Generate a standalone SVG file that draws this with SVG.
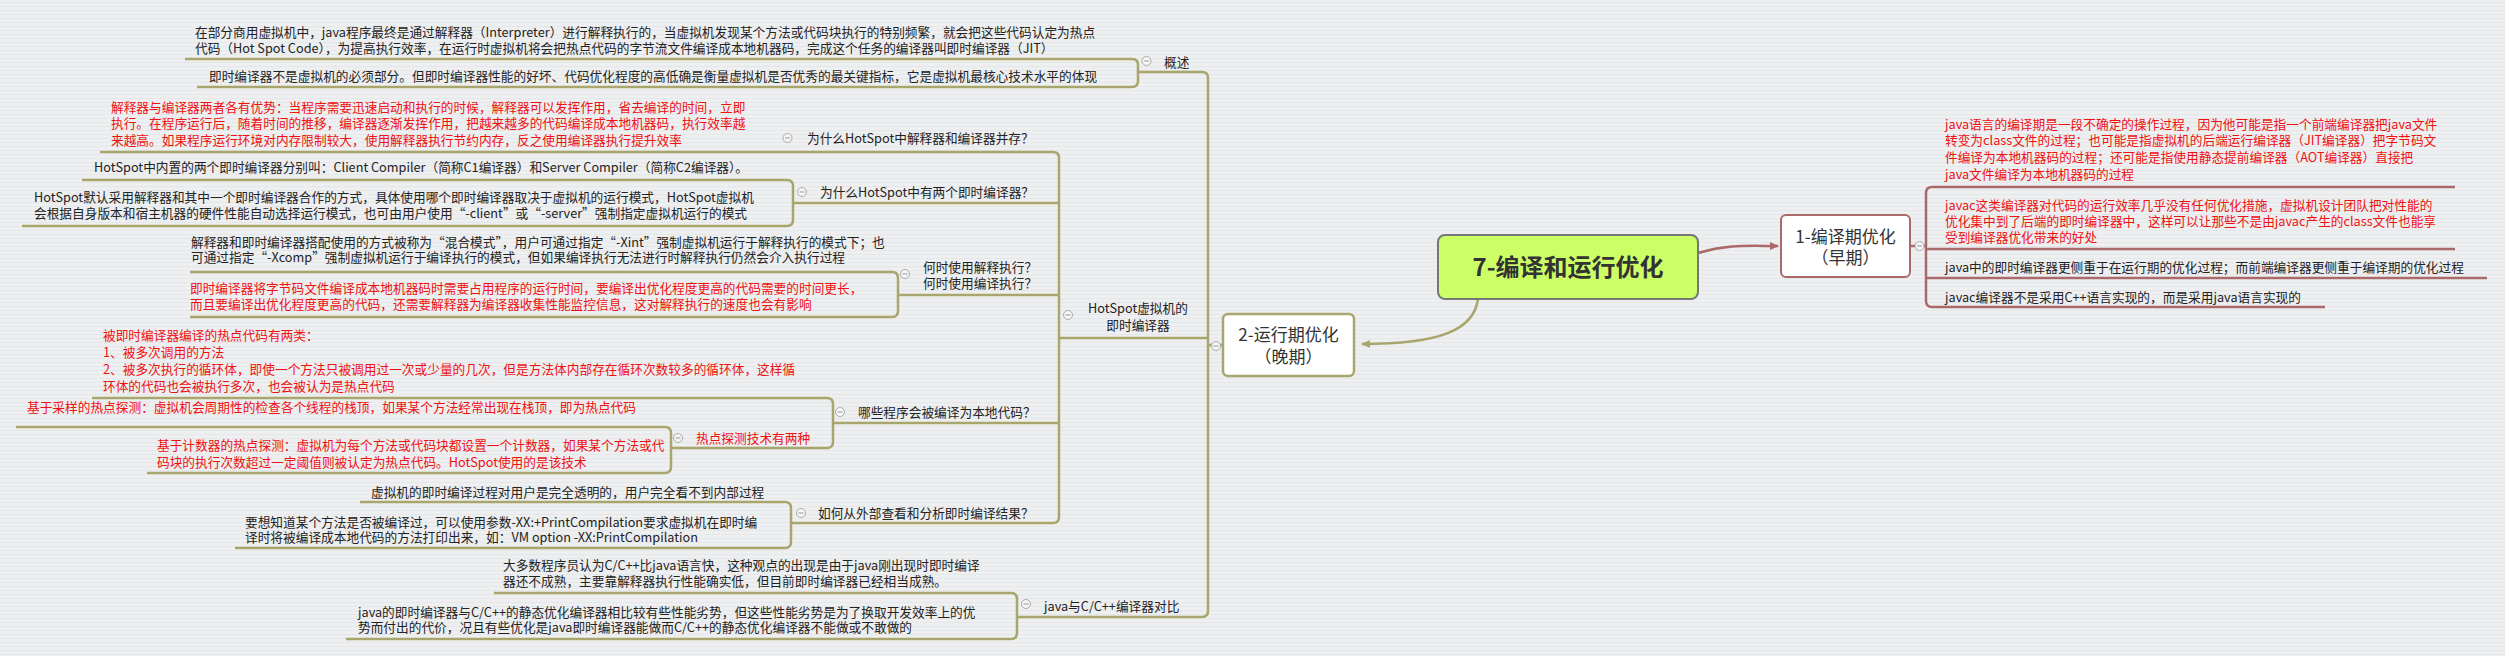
<svg xmlns="http://www.w3.org/2000/svg" width="2505" height="656" viewBox="0 0 2505 656">
<style>
.t{font-family:"Noto Sans CJK SC","Noto Sans",sans-serif;font-size:12.7px;fill:#222}
.r{fill:#f01010}
.n{font-size:17px;fill:#333;text-anchor:middle}
.ol{fill:none;stroke:#a9a66d;stroke-width:2.5}
.rl{fill:none;stroke:#ab6a6a;stroke-width:2.5}
.cc{fill:#f6f6f6;stroke:#aaa;stroke-width:1}
.cm{stroke:#999;stroke-width:1}
</style>
<defs>
<pattern id="bg" width="10" height="4" patternUnits="userSpaceOnUse">
<rect width="10" height="4" fill="#eeeff1"/>
<rect y="2" width="10" height="1" fill="#e6e7e9"/>
</pattern>
<marker id="ao" markerUnits="userSpaceOnUse" markerWidth="9" markerHeight="8" refX="8" refY="4" orient="auto"><path d="M0,0 L9,4 L0,8 z" fill="#a9a66d"/></marker>
<marker id="ar" markerUnits="userSpaceOnUse" markerWidth="9" markerHeight="8" refX="8" refY="4" orient="auto"><path d="M0,0 L9,4 L0,8 z" fill="#ab6a6a"/></marker>
</defs>
<rect width="2505" height="656" fill="url(#bg)"/>

<g id="connectors">
<path class="ol" d="M1478,299 C1474,330 1440,344 1362,344" marker-end="url(#ao)"/>
<path class="rl" d="M1698,253 C1728,244 1748,246 1778,246" marker-end="url(#ar)"/>
<path class="ol" d="M1138,72 H1202 Q1208,72 1208,78 V611 Q1208,617 1202,617 H1017"/>
<path class="ol" d="M1059,338 H1208 M1208,345 H1223"/>
<path class="ol" d="M185,59 H1132 Q1138,59 1138,65 V81 Q1138,87 1132,87 H197"/>
<path class="ol" d="M100,152 H1053 Q1059,152 1059,158 V517 Q1059,523 1053,523 H791"/>
<path class="ol" d="M793,203 H1059 M898,295 H1059 M833,423 H1059"/>
<path class="ol" d="M82,180 H787 Q793,180 793,186 V220 Q793,226 787,226 H22"/>
<path class="ol" d="M190,272 H892 Q898,272 898,278 V311 Q898,317 892,317 H190"/>
<path class="ol" d="M92,398 H827 Q833,398 833,404 V442 Q833,448 827,448 H671"/>
<path class="ol" d="M16,427 H665 Q671,427 671,433 V467 Q671,473 665,473 H147"/>
<path class="ol" d="M360,502 H785 Q791,502 791,508 V542 Q791,548 785,548 H235"/>
<path class="ol" d="M494,593 H1011 Q1017,593 1017,599 V633 Q1017,639 1011,639 H346"/>
<path class="rl" d="M2455,187 H1932 Q1926,187 1926,193 V301 Q1926,307 1932,307 H2325"/>
<path class="rl" d="M1926,249 H2455 M1926,278 H2487 M1910,246 H1926"/>
</g>

<g id="root">
<rect x="1438" y="235" width="260" height="64" rx="7" fill="#ccff66" stroke="#777" stroke-width="2"/>
<text class="t" x="1568" y="276" style="font-size:24px;font-weight:bold;fill:#333;text-anchor:middle">7-编译和运行优化</text>
</g>

<g id="n1">
<rect x="1781" y="215" width="129" height="62" rx="5" fill="#fff" stroke="#ab6a6a" stroke-width="2"/>
<text class="t n" x="1845.5" y="243">1-编译期优化</text>
<text class="t n" x="1845.5" y="264">（早期）</text>
<circle class="cc" cx="1919.5" cy="246" r="4.5"/><path class="cm" d="M1917,246 H1922"/>
</g>
<g id="n1a">
<text class="t r" x="1945" y="128.5">java语言的编译期是一段不确定的操作过程，因为他可能是指一个前端编译器把java文件</text>
<text class="t r" x="1945" y="145">转变为class文件的过程；也可能是指虚拟机的后端运行编译器（JIT编译器）把字节码文</text>
<text class="t r" x="1945" y="162">件编译为本地机器码的过程；还可能是指使用静态提前编译器（AOT编译器）直接把</text>
<text class="t r" x="1945" y="178.5">java文件编译为本地机器码的过程</text>
</g>
<g id="n1b">
<text class="t r" x="1945" y="209.5">javac这类编译器对代码的运行效率几乎没有任何优化措施，虚拟机设计团队把对性能的</text>
<text class="t r" x="1945" y="225.5">优化集中到了后端的即时编译器中，这样可以让那些不是由javac产生的class文件也能享</text>
<text class="t r" x="1945" y="241.5">受到编译器优化带来的好处</text>
</g>
<g id="n1c"><text class="t" x="1945" y="271.5">java中的即时编译器更侧重于在运行期的优化过程；而前端编译器更侧重于编译期的优化过程</text></g>
<g id="n1d"><text class="t" x="1945" y="301.5">javac编译器不是采用C++语言实现的，而是采用java语言实现的</text></g>

<g id="n2">
<rect x="1223" y="314" width="131" height="62" rx="5" fill="#fff" stroke="#a9a66d" stroke-width="2.5"/>
<text class="t n" x="1288.5" y="341">2-运行期优化</text>
<text class="t n" x="1288.5" y="363">（晚期）</text>
<circle class="cc" cx="1216" cy="346" r="4.5"/><path class="cm" d="M1213.5,346 H1218.5"/>
</g>

<g id="gaishu">
<text class="t" x="1164" y="66.5">概述</text>
<circle class="cc" cx="1146.5" cy="61" r="4.5"/><path class="cm" d="M1144,61 H1149"/>
</g>
<g id="gaishu-a">
<text class="t" x="195" y="36.5">在部分商用虚拟机中，java程序最终是通过解释器（Interpreter）进行解释执行的，当虚拟机发现某个方法或代码块执行的特别频繁，就会把这些代码认定为热点</text>
<text class="t" x="195" y="53">代码（Hot Spot Code），为提高执行效率，在运行时虚拟机将会把热点代码的字节流文件编译成本地机器码，完成这个任务的编译器叫即时编译器（JIT）</text>
</g>
<g id="gaishu-b">
<text class="t" x="209" y="81">即时编译器不是虚拟机的必须部分。但即时编译器性能的好坏、代码优化程度的高低确是衡量虚拟机是否优秀的最关键指标，它是虚拟机最核心技术水平的体现</text>
</g>

<g id="hotspot">
<text class="t" x="1138" y="312.5" text-anchor="middle">HotSpot虚拟机的</text>
<text class="t" x="1138" y="330" text-anchor="middle">即时编译器</text>
<circle class="cc" cx="1068" cy="315" r="4.5"/><path class="cm" d="M1065.5,315 H1070.5"/>
</g>

<g id="q1">
<text class="t" x="807" y="142.5">为什么HotSpot中解释器和编译器并存？</text>
<circle class="cc" cx="787.5" cy="138" r="4.5"/><path class="cm" d="M785,138 H790"/>
</g>
<g id="q1-a">
<text class="t r" x="111" y="111.5">解释器与编译器两者各有优势：当程序需要迅速启动和执行的时候，解释器可以发挥作用，省去编译的时间，立即</text>
<text class="t r" x="111" y="128">执行。在程序运行后，随着时间的推移，编译器逐渐发挥作用，把越来越多的代码编译成本地机器码，执行效率越</text>
<text class="t r" x="111" y="144.5">来越高。如果程序运行环境对内存限制较大，使用解释器执行节约内存，反之使用编译器执行提升效率</text>
</g>

<g id="q2">
<text class="t" x="820" y="196.5">为什么HotSpot中有两个即时编译器？</text>
<circle class="cc" cx="802" cy="192" r="4.5"/><path class="cm" d="M799.5,192 H804.5"/>
</g>
<g id="q2-a"><text class="t" x="94" y="171.5">HotSpot中内置的两个即时编译器分别叫：Client Compiler（简称C1编译器）和Server Compiler（简称C2编译器）。</text></g>
<g id="q2-b">
<text class="t" x="34" y="201.5">HotSpot默认采用解释器和其中一个即时编译器合作的方式，具体使用哪个即时编译器取决于虚拟机的运行模式，HotSpot虚拟机</text>
<text class="t" x="34" y="217.5">会根据自身版本和宿主机器的硬件性能自动选择运行模式，也可由用户使用“-client”或“-server”强制指定虚拟机运行的模式</text>
</g>

<g id="q3">
<text class="t" x="923" y="271.5">何时使用解释执行？</text>
<text class="t" x="923" y="287.5">何时使用编译执行？</text>
<circle class="cc" cx="905" cy="274" r="4.5"/><path class="cm" d="M902.5,274 H907.5"/>
</g>
<g id="q3-a">
<text class="t" x="191" y="246.5">解释器和即时编译器搭配使用的方式被称为“混合模式”，用户可通过指定“-Xint”强制虚拟机运行于解释执行的模式下；也</text>
<text class="t" x="191" y="262">可通过指定“-Xcomp”强制虚拟机运行于编译执行的模式，但如果编译执行无法进行时解释执行仍然会介入执行过程</text>
</g>
<g id="q3-b">
<text class="t r" x="190" y="292.5">即时编译器将字节码文件编译成本地机器码时需要占用程序的运行时间，要编译出优化程度更高的代码需要的时间更长，</text>
<text class="t r" x="190" y="309">而且要编译出优化程度更高的代码，还需要解释器为编译器收集性能监控信息，这对解释执行的速度也会有影响</text>
</g>

<g id="q4">
<text class="t" x="858" y="416.5">哪些程序会被编译为本地代码？</text>
<circle class="cc" cx="840" cy="412" r="4.5"/><path class="cm" d="M837.5,412 H842.5"/>
</g>
<g id="q4-a">
<text class="t r" x="103" y="339.5">被即时编译器编译的热点代码有两类：</text>
<text class="t r" x="103" y="356.5">1、被多次调用的方法</text>
<text class="t r" x="103" y="373.5">2、被多次执行的循环体，即使一个方法只被调用过一次或少量的几次，但是方法体内部存在循环次数较多的循环体，这样循</text>
<text class="t r" x="103" y="390.5">环体的代码也会被执行多次，也会被认为是热点代码</text>
</g>
<g id="q4-b">
<text class="t r" x="696" y="442.5">热点探测技术有两种</text>
<circle class="cc" cx="678" cy="438" r="4.5"/><path class="cm" d="M675.5,438 H680.5"/>
</g>
<g id="q4-b1"><text class="t r" x="27" y="411.5">基于采样的热点探测：虚拟机会周期性的检查各个线程的栈顶，如果某个方法经常出现在栈顶，即为热点代码</text></g>
<g id="q4-b2">
<text class="t r" x="157" y="449.5">基于计数器的热点探测：虚拟机为每个方法或代码块都设置一个计数器，如果某个方法或代</text>
<text class="t r" x="157" y="466.5">码块的执行次数超过一定阈值则被认定为热点代码。HotSpot使用的是该技术</text>
</g>

<g id="q5">
<text class="t" x="818" y="517.5">如何从外部查看和分析即时编译结果？</text>
<circle class="cc" cx="801" cy="513" r="4.5"/><path class="cm" d="M798.5,513 H803.5"/>
</g>
<g id="q5-a"><text class="t" x="371" y="496.5">虚拟机的即时编译过程对用户是完全透明的，用户完全看不到内部过程</text></g>
<g id="q5-b">
<text class="t" x="245" y="526.5">要想知道某个方法是否被编译过，可以使用参数-XX:+PrintCompilation要求虚拟机在即时编</text>
<text class="t" x="245" y="542">译时将被编译成本地代码的方法打印出来，如：VM option -XX:PrintCompilation</text>
</g>

<g id="q6">
<text class="t" x="1044" y="610.5">java与C/C++编译器对比</text>
<circle class="cc" cx="1026" cy="604" r="4.5"/><path class="cm" d="M1023.5,604 H1028.5"/>
</g>
<g id="q6-a">
<text class="t" x="503" y="569.5">大多数程序员认为C/C++比java语言快，这种观点的出现是由于java刚出现时即时编译</text>
<text class="t" x="503" y="585.5">器还不成熟，主要靠解释器执行性能确实低，但目前即时编译器已经相当成熟。</text>
</g>
<g id="q6-b">
<text class="t" x="358" y="616.5">java的即时编译器与C/C++的静态优化编译器相比较有些性能劣势，但这些性能劣势是为了换取开发效率上的优</text>
<text class="t" x="358" y="632">势而付出的代价，况且有些优化是java即时编译器能做而C/C++的静态优化编译器不能做或不敢做的</text>
</g>
</svg>
